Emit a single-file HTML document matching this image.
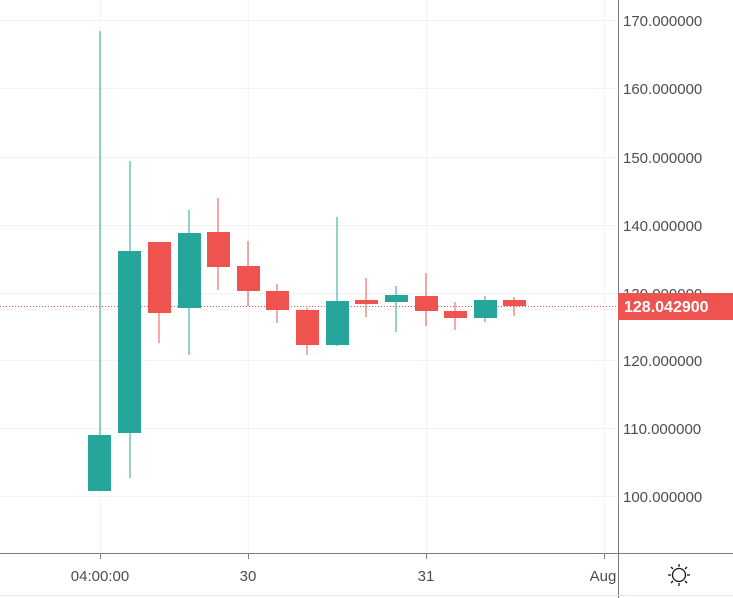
<!DOCTYPE html><html><head><style>body{margin:0;background:#fff}svg{display:block;font-family:"Liberation Sans",sans-serif}</style></head><body>
<svg width="733" height="598" viewBox="0 0 733 598">
<g stroke="#f0f3fa" stroke-width="1">
<line x1="0" y1="20.5" x2="618" y2="20.5"/><line x1="0" y1="88.5" x2="618" y2="88.5"/><line x1="0" y1="157.5" x2="618" y2="157.5"/><line x1="0" y1="225.5" x2="618" y2="225.5"/><line x1="0" y1="293.5" x2="618" y2="293.5"/><line x1="0" y1="360.5" x2="618" y2="360.5"/><line x1="0" y1="428.5" x2="618" y2="428.5"/><line x1="0" y1="496.5" x2="618" y2="496.5"/>
<line x1="100.5" y1="0" x2="100.5" y2="553"/><line x1="248.5" y1="0" x2="248.5" y2="553"/><line x1="426.5" y1="0" x2="426.5" y2="553"/><line x1="604.5" y1="0" x2="604.5" y2="553"/>
</g>
<line x1="0" y1="306.5" x2="618" y2="306.5" stroke="#ef5350" stroke-dasharray="1,2"/>
<g fill="#26a69a" stroke="#26a69a">
<line x1="100" y1="31" x2="100" y2="491"/><rect x="88" y="435" width="23" height="56" stroke="none"/>
<line x1="130" y1="161" x2="130" y2="478"/><rect x="118" y="251" width="23" height="182" stroke="none"/>
<line x1="189" y1="210" x2="189" y2="355"/><rect x="178" y="233" width="23" height="75" stroke="none"/>
<line x1="337" y1="217" x2="337" y2="346"/><rect x="326" y="301" width="23" height="44" stroke="none"/>
<line x1="396" y1="286" x2="396" y2="332"/><rect x="385" y="295" width="23" height="7" stroke="none"/>
<line x1="485" y1="296" x2="485" y2="322"/><rect x="474" y="300" width="23" height="18" stroke="none"/>
</g>
<g fill="#ef5350" stroke="#ef5350">
<line x1="159" y1="242" x2="159" y2="343"/><rect x="148" y="242" width="23" height="71" stroke="none"/>
<line x1="218" y1="198" x2="218" y2="290"/><rect x="207" y="232" width="23" height="35" stroke="none"/>
<line x1="248" y1="241" x2="248" y2="306"/><rect x="237" y="266" width="23" height="25" stroke="none"/>
<line x1="277" y1="284" x2="277" y2="323"/><rect x="266" y="291" width="23" height="19" stroke="none"/>
<line x1="307" y1="308" x2="307" y2="355"/><rect x="296" y="310" width="23" height="35" stroke="none"/>
<line x1="366" y1="278" x2="366" y2="317"/><rect x="355" y="300" width="23" height="4" stroke="none"/>
<line x1="426" y1="273" x2="426" y2="326"/><rect x="415" y="296" width="23" height="15" stroke="none"/>
<line x1="455" y1="302" x2="455" y2="330"/><rect x="444" y="311" width="23" height="7" stroke="none"/>
<line x1="514" y1="297" x2="514" y2="316"/><rect x="503" y="300" width="23" height="6" stroke="none"/>
</g>
<line x1="618.5" y1="0" x2="618.5" y2="598" stroke="#787b86"/>
<line x1="0" y1="553.5" x2="733" y2="553.5" stroke="#787b86"/>
<line x1="0" y1="595.5" x2="733" y2="595.5" stroke="#e0e3eb"/>
<g fill="#4a4d57" font-size="15">
<text x="623" y="26">170.000000</text><text x="623" y="94">160.000000</text><text x="623" y="163">150.000000</text><text x="623" y="231">140.000000</text><text x="623" y="299">130.000000</text><text x="623" y="366">120.000000</text><text x="623" y="434">110.000000</text><text x="623" y="502">100.000000</text>
</g>
<rect x="618" y="293" width="115" height="27" fill="#ef5350"/>
<text x="624" y="312" fill="#fff" font-size="16" font-weight="bold">128.042900</text>
<g stroke="#787b86"><line x1="100.5" y1="553" x2="100.5" y2="559"/><line x1="248.5" y1="553" x2="248.5" y2="559"/><line x1="426.5" y1="553" x2="426.5" y2="559"/><line x1="604.5" y1="553" x2="604.5" y2="559"/></g>
<g fill="#4a4d57" font-size="15" text-anchor="middle">
<text x="100" y="581">04:00:00</text><text x="248" y="581">30</text><text x="426" y="581">31</text><text x="603" y="581">Aug</text>
</g>
<rect x="619" y="555" width="114" height="40" fill="#fff"/>
<g stroke="#131722" stroke-width="1.3" fill="none"><circle cx="679" cy="575" r="6.5"/>
<line x1="679" y1="564" x2="679" y2="567"/><line x1="679" y1="583" x2="679" y2="586"/><line x1="668" y1="575" x2="671" y2="575"/><line x1="687" y1="575" x2="690" y2="575"/>
<line x1="671" y1="567" x2="673" y2="569"/><line x1="685" y1="581" x2="687" y2="583"/><line x1="687" y1="567" x2="685" y2="569"/><line x1="673" y1="581" x2="671" y2="583"/></g>
</svg></body></html>
